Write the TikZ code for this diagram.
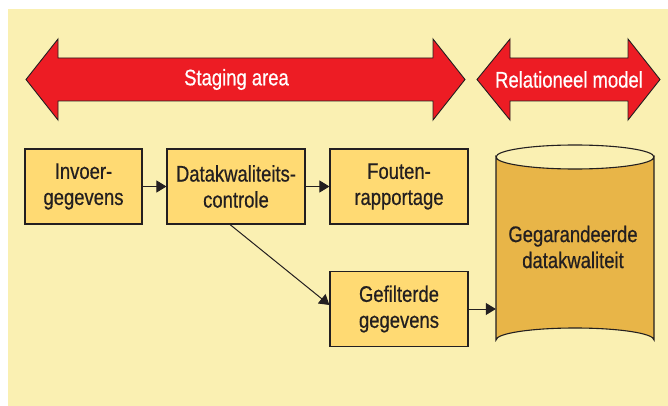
\documentclass[tikz,border=0pt]{standalone}
\usepackage{fontspec}
\setmainfont[FakeStretch=0.82,FakeBold=0.6]{Liberation Sans}
\usetikzlibrary{arrows.meta,calc}
\definecolor{bg}{HTML}{FAF0B2}
\definecolor{redarrow}{HTML}{ED1C24}
\definecolor{boxfill}{HTML}{FFDA73}
\definecolor{dbfill}{HTML}{E8B548}
\definecolor{ink}{HTML}{231F20}
\tikzset{
  band/.style={fill=redarrow, draw=ink, line width=0.9pt, line join=miter},
  bandtext/.style={text=white, font=\fontsize{22.5}{26}\selectfont, inner sep=0pt},
  procbox/.style={draw=ink, fill=boxfill, line width=1.1pt, minimum width=138pt, minimum height=75pt, align=center, text=ink, font=\fontsize{22.5}{26}\selectfont, inner sep=0pt},
  arr/.style={draw=ink, line width=1pt, -{Triangle[length=10pt,width=12pt]}},
}
\begin{document}
\begin{tikzpicture}[x=1pt,y=-1pt]
\useasboundingbox (0,0) rectangle (668,406);
\fill[bg] (8,9) rectangle (668,406);
% red double arrows
\draw[band] (26,79.5) -- (58,39) -- (58,58) -- (433,58) -- (433,39) -- (465,79.5) -- (433,120) -- (433,101) -- (58,101) -- (58,120) -- cycle;
\draw[band] (477,79.5) -- (510,39) -- (510,58) -- (628,58) -- (628,39) -- (660,79.5) -- (628,120) -- (628,101) -- (510,101) -- (510,120) -- cycle;
\node[bandtext] (staging) at (236.5,79.5) {Staging area};
\node[bandtext] (relmodel) at (569,79.5) {Relationeel model};
% process boxes
\node[procbox, minimum width=117pt] (inv) at (83.5,186.5) {Invoer-\\gegevens};
\node[procbox] (dq) at (236,186.5) {Datakwaliteits-\\controle};
\node[procbox] (fr) at (399,186.5) {Fouten-\\rapportage};
\node[procbox] (gf) at (399,309) {Gefilterde\\gegevens};
% database cylinder
\draw[draw=ink, fill=dbfill, line width=1.1pt]
  (496,157) -- (496,340) arc[start angle=180, end angle=360, x radius=79, y radius=12]
  -- (654,157) arc[start angle=0, end angle=180, x radius=79, y radius=12] -- cycle;
\draw[draw=ink, line width=1.1pt] (496,157) arc[start angle=180, end angle=360, x radius=79, y radius=12];
\node[minimum width=158pt, minimum height=183pt, inner sep=0pt] (db) at (575,248.5) {};
\node[align=center, text=ink, font=\fontsize{22.5}{26}\selectfont, inner sep=0pt] (dbtext) at (573,247) {Gegarandeerde\\datakwaliteit};
% connectors
\draw[arr] (inv.east) -- (dq.west);
\draw[arr] (dq.east) -- (fr.west);
\draw[arr] ([xshift=-6pt]dq.south) -- ([yshift=4pt]gf.west);
\draw[arr] (gf.east) -- (gf.east -| db.west);
\end{tikzpicture}
\end{document}
